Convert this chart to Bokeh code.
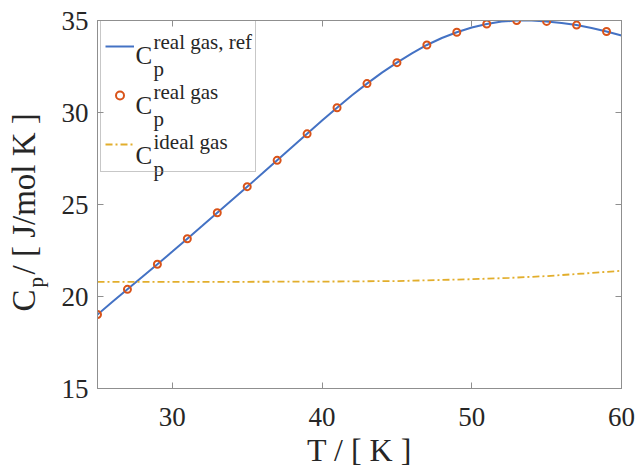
from math import pi

from bokeh.embed import file_html
from bokeh.layouts import row
from bokeh.models import (FixedTicker, Label, Legend, LegendItem, LinearAxis,
                          Range1d)
from bokeh.plotting import figure
from bokeh.resources import INLINE

# Heat capacity of the real gas: reference curve (1 K steps)
T_ref = [25, 26, 27, 28, 29, 30, 31, 32, 33, 34, 35, 36, 37, 38, 39, 40, 41, 42,
         43, 44, 45, 46, 47, 48, 49, 50, 51, 52, 53, 54, 55, 56, 57, 58, 59, 60]
cp_ref = [19.02, 19.71, 20.39, 21.07, 21.75, 22.44, 23.14, 23.84, 24.55, 25.26,
          25.97, 26.68, 27.40, 28.12, 28.84, 29.56, 30.26, 30.94, 31.57, 32.17,
          32.71, 33.21, 33.67, 34.05, 34.36, 34.62, 34.81, 34.94, 35.00, 35.00,
          34.95, 34.87, 34.75, 34.59, 34.40, 34.18]

# Computed real-gas values (every 2 K)
T_real = [25, 27, 29, 31, 33, 35, 37, 39, 41, 43, 45, 47, 49, 51, 53, 55, 57, 59]
cp_real = [19.02, 20.39, 21.75, 23.14, 24.55, 25.97, 27.40, 28.84, 30.26, 31.57,
           32.71, 33.67, 34.36, 34.81, 35.00, 34.95, 34.75, 34.40]

# Ideal-gas heat capacity
T_ideal = [25, 30, 35, 40, 45, 50, 52.5, 55, 57.5, 60]
cp_ideal = [20.79, 20.79, 20.80, 20.81, 20.84, 20.94, 21.01, 21.11, 21.25, 21.40]

x_ticks = [30, 40, 50, 60]
y_ticks = [15, 20, 25, 30, 35]

FONT = "Liberation Serif"
TXT = "#262626"
AX = "#8f8f8f"
BLUE = "#4472C4"
RED = "#D95319"
GOLD = "#E2AE2C"

STRIP_W = 58   # width of the strip that carries the vertical axis title
H = 470

p = figure(width=637 - STRIP_W, height=H, x_range=Range1d(25, 60),
           y_range=Range1d(15, 35), output_backend="svg", toolbar_location=None,
           min_border_left=38, min_border_right=16, min_border_top=20,
           min_border_bottom=80)
p.grid.visible = False
p.outline_line_color = AX
p.outline_line_width = 1
p.background_fill_color = "white"
p.border_fill_color = "white"


def style_axis(ax, ticks, show_labels):
    ax.ticker = FixedTicker(ticks=ticks)
    ax.axis_line_color = AX
    ax.axis_line_width = 1
    ax.major_tick_line_color = AX
    ax.major_tick_in = 6
    ax.major_tick_out = 0
    ax.minor_tick_line_color = None
    ax.major_label_text_font = FONT
    ax.major_label_text_color = TXT
    ax.major_label_text_font_size = "27px"
    if not show_labels:
        ax.major_label_overrides = {t: "" for t in ticks}
        ax.major_label_standoff = 0


xb = p.below[0]
style_axis(xb, x_ticks, True)
xb.major_label_standoff = 19
xb.axis_label = "T / [ K ]"
xb.axis_label_text_font = FONT
xb.axis_label_text_font_size = "32px"
xb.axis_label_text_font_style = "normal"
xb.axis_label_text_color = TXT
xb.axis_label_standoff = 3

yl = p.left[0]
style_axis(yl, y_ticks, True)
yl.major_label_standoff = 9

xt = LinearAxis()
style_axis(xt, x_ticks, False)
p.add_layout(xt, "above")
yr = LinearAxis()
style_axis(yr, y_ticks, False)
p.add_layout(yr, "right")

r_ref = p.line(T_ref, cp_ref, line_color=BLUE, line_width=2)
r_real = p.scatter(T_real, cp_real, marker="circle", size=7, fill_color=None,
                   line_color=RED, line_width=2)
r_ideal = p.line(T_ideal, cp_ideal, line_color=GOLD, line_width=1.8,
                 line_dash="7 3 2 3")

# Legend frame with glyph samples; the formatted entry texts are separate labels
legend = Legend(items=[LegendItem(label="", renderers=[r_ref]),
                       LegendItem(label="", renderers=[r_real]),
                       LegendItem(label="", renderers=[r_ideal])],
                location=(3, 216), orientation="vertical",
                padding=4, spacing=2, margin=0,
                glyph_width=29, glyph_height=20,
                label_height=47, label_width=112, label_standoff=5,
                label_text_font_size="10px",
                border_line_color=AX, border_line_width=1,
                background_fill_color="white", background_fill_alpha=0)
p.add_layout(legend)


def add_text(fig, text, x, y, size, angle=0.0):
    fig.add_layout(Label(x=x, y=y, x_units="screen", y_units="screen", text=text,
                         angle=angle, text_font=FONT, text_font_size=size,
                         text_color=TXT, text_align="left",
                         text_baseline="alphabetic"))


# Legend entry texts: C with superscript and subscript p
entries = [("real gas, ref", 333), ("real gas", 283), ("ideal gas", 233)]
for sup, base in entries:
    add_text(p, "C", 38, base, "25px")
    add_text(p, sup, 56, base + 13.5, "21px")
    add_text(p, "p", 56, base - 13.5, "21px")

# Strip on the left holding the vertical axis title C_p / [ J/mol K ]
strip = figure(width=STRIP_W, height=H, x_range=Range1d(0, STRIP_W),
               y_range=Range1d(0, H), output_backend="svg",
               toolbar_location=None, x_axis_location=None, y_axis_location=None,
               min_border=0, min_border_left=0, min_border_right=0,
               min_border_top=0, min_border_bottom=0)
strip.grid.visible = False
strip.xgrid.visible = False
strip.ygrid.visible = False
strip.outline_line_color = None
strip.background_fill_color = "white"
strip.border_fill_color = "white"
add_text(strip, "C", 23, 77, "33px", angle=pi / 2)
add_text(strip, "p", 35, 101, "21px", angle=pi / 2)
add_text(strip, " / [ J/mol K ]", 23, 114, "33px", angle=pi / 2)

page = row(strip, p, spacing=0)
open("out.html", "w").write(file_html(page, INLINE))
